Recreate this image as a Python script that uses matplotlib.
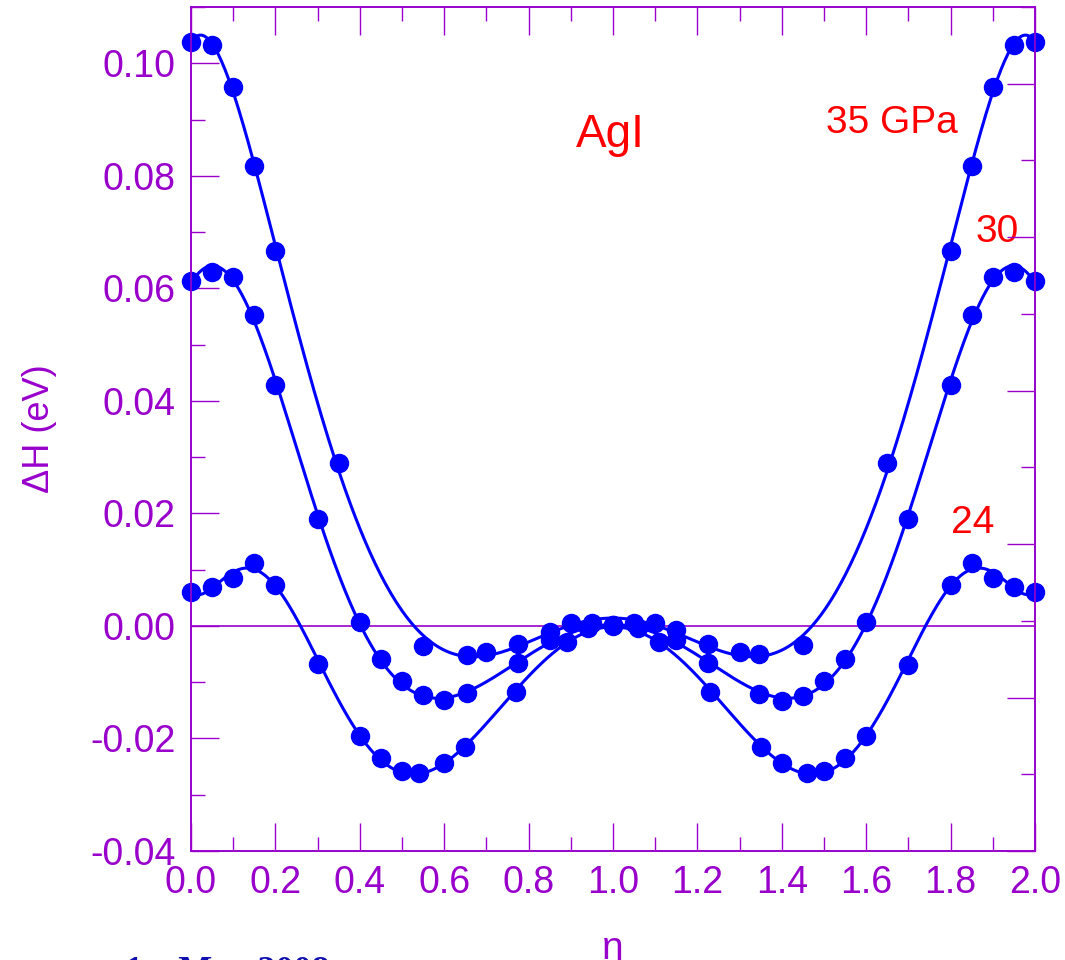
import numpy as np
import matplotlib
matplotlib.use("Agg")
import matplotlib.pyplot as plt
from matplotlib.ticker import MultipleLocator, FormatStrFormatter

# Enthalpy difference along the transition path eta, AgI at three pressures
eta_35 = [0.0, 0.05, 0.10, 0.15, 0.20, 0.35, 0.55, 0.655, 0.70, 0.775, 0.85, 0.90,
          0.95, 1.0, 1.05, 1.10, 1.15, 1.225, 1.30, 1.345, 1.45, 1.65, 1.80, 1.85,
          1.90, 1.95, 2.0]
dh_35 = [0.1037, 0.1033, 0.0957, 0.0817, 0.0667, 0.0289, -0.0035, -0.0052, -0.0046,
         -0.0032, -0.0010, 0.0005, 0.0006, 0.0002, 0.0005, 0.0005, -0.0008, -0.0032,
         -0.0046, -0.0050, -0.0034, 0.0289, 0.0667, 0.0817, 0.0957, 0.1032, 0.1037]

eta_30 = [0.0, 0.05, 0.10, 0.15, 0.20, 0.30, 0.40, 0.45, 0.50, 0.55, 0.60, 0.655,
          0.775, 0.85, 0.94, 1.0, 1.06, 1.15, 1.225, 1.345, 1.40, 1.45, 1.50, 1.55,
          1.60, 1.70, 1.80, 1.85, 1.90, 1.95, 2.0]
dh_30 = [0.0613, 0.0629, 0.0620, 0.0552, 0.0429, 0.0190, 0.0007, -0.0059, -0.0098,
         -0.0123, -0.0132, -0.0120, -0.0066, -0.0025, -0.0004, 0.0002, -0.0004, -0.0025,
         -0.0065, -0.0121, -0.0133, -0.0124, -0.0098, -0.0059, 0.0007, 0.0190, 0.0429,
         0.0552, 0.0620, 0.0629, 0.0613]

eta_24 = [0.0, 0.05, 0.10, 0.15, 0.20, 0.30, 0.40, 0.45, 0.50, 0.54, 0.60, 0.65,
          0.77, 0.89, 1.0, 1.11, 1.23, 1.35, 1.40, 1.46, 1.50, 1.55, 1.60, 1.70,
          1.80, 1.85, 1.90, 1.95, 2.0]
dh_24 = [0.0061, 0.0069, 0.0085, 0.0112, 0.0073, -0.0068, -0.0195, -0.0235, -0.0257,
         -0.0262, -0.0244, -0.0216, -0.0117, -0.0028, 0.0, -0.0028, -0.0117, -0.0216,
         -0.0244, -0.0262, -0.0257, -0.0235, -0.0195, -0.0069, 0.0073, 0.0112, 0.0085,
         0.0070, 0.0061]

series = [(eta_35, dh_35), (eta_30, dh_30), (eta_24, dh_24)]
pressure_labels = ["35 GPa", "30", "24"]

PURPLE = "#9900CC"
BLUE = "#0000FF"
RED = "#FF0000"
SANS = "Liberation Sans"

fig = plt.figure(figsize=(10.65, 9.6), dpi=100)
ax = fig.add_axes([191 / 1065, 1 - 851 / 960, (1035 - 191) / 1065, (851 - 7) / 960])

# Fitted curves: even polynomial in (eta - 1), the path is symmetric about eta = 1
eta_fine = np.linspace(0.0, 2.0, 500)
for x, y in series:
    x = np.asarray(x)
    y = np.asarray(y)
    t = (x - 1.0) ** 2
    coef = np.polyfit(t, y, 5)
    ax.plot(eta_fine, np.polyval(coef, (eta_fine - 1.0) ** 2), color=BLUE, lw=2.2,
            zorder=3)
    ax.plot(x, y, "o", color=BLUE, ms=13, mec=BLUE, zorder=4, clip_on=False)

ax.axhline(0.0, color=PURPLE, lw=1.2, zorder=2)

ax.set_xlim(0.0, 2.0)
ax.set_ylim(-0.04, 0.11)
ax.xaxis.set_major_locator(MultipleLocator(0.2))
ax.xaxis.set_minor_locator(MultipleLocator(0.1))
ax.yaxis.set_major_locator(MultipleLocator(0.02))
ax.yaxis.set_minor_locator(MultipleLocator(0.01))
ax.xaxis.set_major_formatter(FormatStrFormatter("%.1f"))
ax.yaxis.set_major_formatter(FormatStrFormatter("%.2f"))

ax.tick_params(which="both", direction="in", color=PURPLE, width=1.0,
               top=True, right=False, labelcolor=PURPLE)
ax.tick_params(which="major", length=20)
ax.tick_params(which="minor", length=10)
ax.tick_params(axis="x", which="major", pad=10)
ax.tick_params(axis="y", which="major", pad=11)
for lab in ax.get_xticklabels() + ax.get_yticklabels():
    lab.set_fontfamily(SANS)
    lab.set_fontsize(27)

for sp in ax.spines.values():
    sp.set_color(PURPLE)
    sp.set_linewidth(1.2)

# Right-hand axis in a second energy unit, ticks only
ax2 = ax.twinx()
ax2.set_ylim(0.0, 5.5)
ax2.yaxis.set_major_locator(MultipleLocator(1.0))
ax2.yaxis.set_minor_locator(MultipleLocator(0.5))
ax2.tick_params(which="both", direction="in", color=PURPLE, width=1.0,
                labelright=False)
ax2.tick_params(which="major", length=20)
ax2.tick_params(which="minor", length=10)
for sp in ax2.spines.values():
    sp.set_color(PURPLE)
    sp.set_linewidth(1.2)

ax.set_xlabel("\u03b7", color=PURPLE, fontsize=28, family=SANS, labelpad=22)
ax.set_ylabel("\u0394H (eV)", color=PURPLE, fontsize=26, family=SANS, labelpad=24)

# Labels inside the plot
ax.text(0.993, 0.0851, "AgI", color=RED, fontsize=33, family=SANS,
        ha="center", va="baseline")
ax.text(1.505, 0.0876, pressure_labels[0], color=RED, fontsize=28, family=SANS,
        ha="left", va="baseline")
ax.text(1.86, 0.0683, pressure_labels[1], color=RED, fontsize=28, family=SANS,
        ha="left", va="baseline")
ax.text(1.80, 0.0165, pressure_labels[2], color=RED, fontsize=28, family=SANS,
        ha="left", va="baseline")

fig.text(125 / 1065, 1 - 956 / 960, "1st May 2008", color="#1010B0", fontsize=26,
         family="Liberation Serif", weight="bold", ha="left", va="top")

fig.savefig("out.png", dpi=100)
